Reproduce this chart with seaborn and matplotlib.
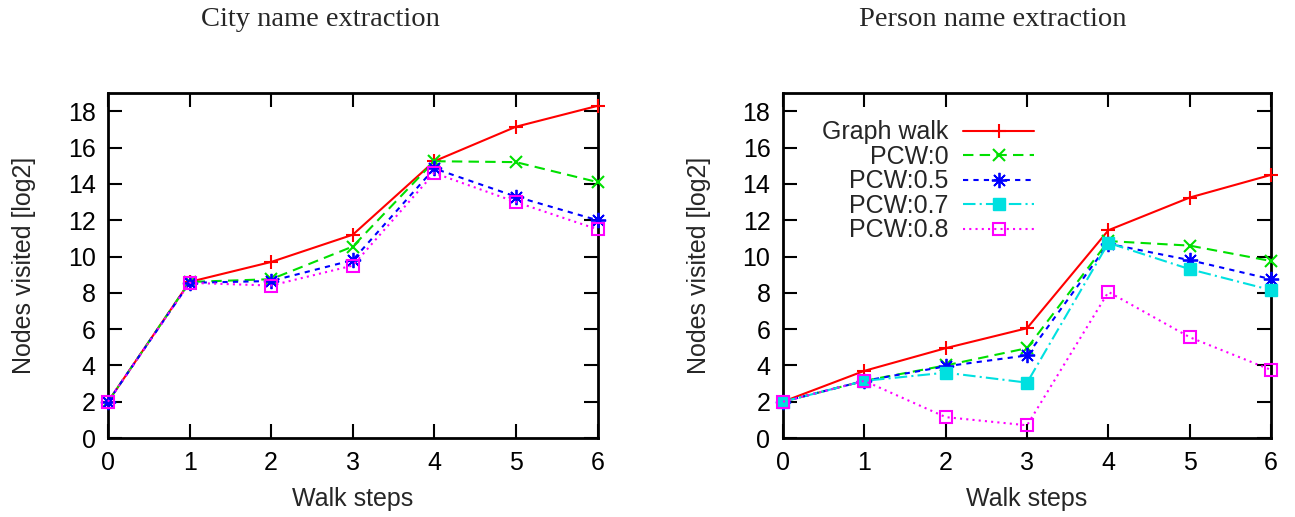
import numpy as np
import pandas as pd
import seaborn as sns
import matplotlib
matplotlib.use("Agg")
import matplotlib.pyplot as plt

# walk steps on the x axis
steps = [0, 1, 2, 3, 4, 5, 6]

# city name extraction (log2 of nodes visited)
city_graph = [2.0, 8.6, 9.7, 11.2, 15.25, 17.15, 18.3]
city_pcw0 = [2.0, 8.6, 8.75, 10.55, 15.25, 15.2, 14.1]
city_pcw05 = [2.0, 8.55, 8.65, 9.8, 14.85, 13.3, 12.0]
city_pcw08 = [2.0, 8.55, 8.4, 9.5, 14.6, 13.0, 11.5]

# person name extraction
person_graph = [2.0, 3.7, 4.95, 6.05, 11.45, 13.25, 14.5]
person_pcw0 = [2.0, 3.15, 4.0, 4.95, 10.85, 10.6, 9.75]
person_pcw05 = [2.0, 3.15, 3.95, 4.55, 10.7, 9.8, 8.75]
person_pcw07 = [2.0, 3.15, 3.6, 3.05, 10.75, 9.3, 8.15]
person_pcw08 = [2.0, 3.15, 1.15, 0.7, 8.05, 5.55, 3.75]

yticks = [0, 2, 4, 6, 8, 10, 12, 14, 16, 18]

sns.set_style("ticks")
plt.rcParams['font.family'] = ['Liberation Sans', 'DejaVu Sans']

# style per series (gnuplot look)
styles = {
    "Graph walk": dict(color="#ff0000", linestyle="-", marker="+", ms=10, mew=1.5),
    "PCW:0": dict(color="#00e000", linestyle=(0, (5, 3)), marker="x", ms=9, mew=1.5),
    "PCW:0.5": dict(color="#0000ff", linestyle=(0, (2.5, 2.5)), marker=(8, 2, 0), ms=11, mew=1.3),
    "PCW:0.7": dict(color="#00e0e0", linestyle=(0, (6, 2, 1, 2)), marker="s", ms=9, mew=1),
    "PCW:0.8": dict(color="#ff00ff", linestyle=(0, (1, 2)), marker="s", ms=9, mew=1.5,
                    markerfacecolor="none"),
}

fig = plt.figure(figsize=(12.95, 5.17), dpi=100)
ax1 = fig.add_axes([0.0834, 0.1528, 0.378, 0.667])
ax2 = fig.add_axes([0.6046, 0.1528, 0.377, 0.667])

city = {"Graph walk": city_graph, "PCW:0": city_pcw0,
        "PCW:0.5": city_pcw05, "PCW:0.8": city_pcw08}
person = {"Graph walk": person_graph, "PCW:0": person_pcw0, "PCW:0.5": person_pcw05,
          "PCW:0.7": person_pcw07, "PCW:0.8": person_pcw08}

for ax, data in [(ax1, city), (ax2, person)]:
    for name, vals in data.items():
        st = dict(styles[name])
        st.setdefault("markeredgecolor", st["color"])
        sns.lineplot(x=steps, y=vals, ax=ax, label=name, lw=1.5,
                     clip_on=False, zorder=3, **st)
    ax.set_xlim(0, 6)
    ax.set_ylim(0, 19)
    ax.set_xticks(steps)
    ax.set_yticks(yticks)
    ax.tick_params(direction="in", length=10, width=1.5, labelsize=18, pad=9,
                   top=True, right=True, colors="black")
    for s in ax.spines.values():
        s.set_linewidth(2)
        s.set_color("black")
    ax.set_xlabel("Walk steps", fontsize=18, labelpad=9)
    ax.set_ylabel("Nodes visited [log2]", fontsize=18, labelpad=23)

ax1.get_legend().remove()
leg = ax2.legend(loc="upper left", bbox_to_anchor=(0.059, 0.95), frameon=False,
                 markerfirst=False, fontsize=18, handlelength=2.85,
                 labelspacing=0.02, handletextpad=0.6, borderaxespad=0)
# right-align the rows so labels end at the same x, like gnuplot
for col in leg._legend_handle_box.get_children():
    col.align = "right"

fig.text(320 / 1295, 1 - 19 / 517, "City name extraction", ha="center", va="center",
         fontsize=20.5, family=["Liberation Serif", "DejaVu Serif"])
fig.text(993 / 1295, 1 - 19 / 517, "Person name extraction", ha="center", va="center",
         fontsize=20.5, family=["Liberation Serif", "DejaVu Serif"])

fig.savefig("out.png", dpi=100)
